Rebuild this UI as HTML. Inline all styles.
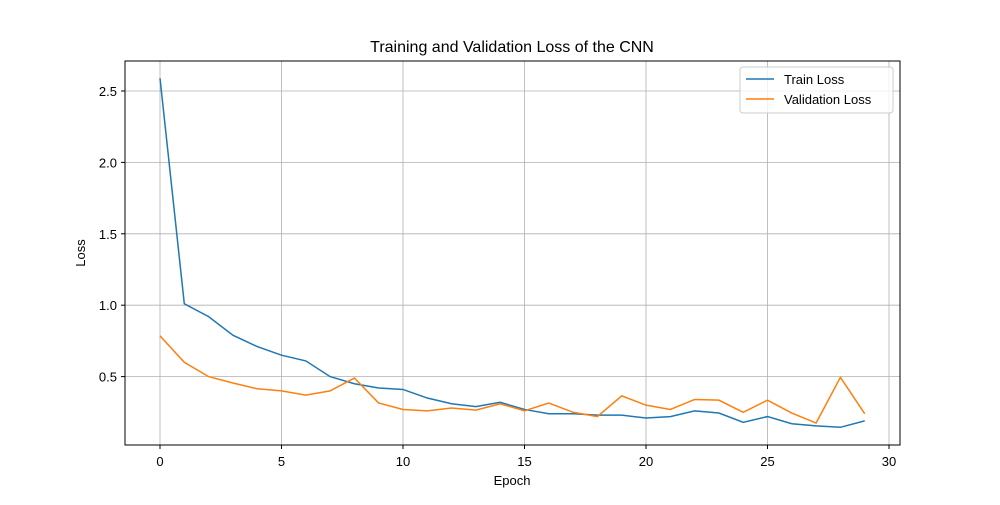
<!DOCTYPE html>
<html><head><meta charset="utf-8"><style>
body{margin:0;background:#fff;font-family:"Liberation Sans","DejaVu Sans",sans-serif;}
</style></head><body>
<svg id="chart" width="1000" height="500" xmlns="http://www.w3.org/2000/svg">
<rect width="1000" height="500" fill="#fff"/>
<g id="grid"></g>
<g id="lines"></g>
<rect x="125" y="61" width="775" height="384" fill="none" stroke="#000" stroke-width="1"/>
<g id="ticks" font-size="13" fill="#000"></g>
<text x="512" y="52" text-anchor="middle" font-size="16">Training and Validation Loss of the CNN</text>
<text x="512" y="485" text-anchor="middle" font-size="13">Epoch</text>
<text transform="translate(85,253) rotate(-90)" text-anchor="middle" font-size="13">Loss</text>
<g>
<rect x="740" y="67" width="153" height="46" rx="3" fill="#fff" fill-opacity="0.8" stroke="#ccc"/>
<g><line x1="746" y1="79" x2="774" y2="79" stroke="#1f77b4" stroke-width="1.5"/><text x="784" y="84" font-size="13">Train Loss</text></g>
<g><line x1="746" y1="99" x2="774" y2="99" stroke="#ff7f0e" stroke-width="1.5"/><text x="784" y="104" font-size="13">Validation Loss</text></g>
</g>
</svg>
<script>
const epochs=[...Array(30).keys()];
const trainLoss=[2.59,1.01,0.92,0.79,0.71,0.65,0.61,0.50,0.45,0.42,0.41,0.35,0.31,0.29,0.32,0.27,0.24,0.24,0.23,0.23,0.21,0.22,0.26,0.245,0.18,0.22,0.17,0.155,0.145,0.19];
const valLoss=[0.785,0.60,0.50,0.455,0.415,0.40,0.37,0.40,0.49,0.315,0.27,0.26,0.28,0.265,0.31,0.26,0.315,0.25,0.22,0.365,0.30,0.27,0.34,0.335,0.25,0.335,0.245,0.175,0.495,0.24];
const xTicks=[0,5,10,15,20,25,30];
const yTicks=[0.5,1.0,1.5,2.0,2.5];
const NS="http://www.w3.org/2000/svg";
const xs=v=>160+v*(889-160)/30;
const ys=v=>448-v*142.8;
const grid=document.getElementById('grid'),ticks=document.getElementById('ticks'),lines=document.getElementById('lines');
function mk(tag,attrs,parent){const e=document.createElementNS(NS,tag);for(const k in attrs)e.setAttribute(k,attrs[k]);parent.appendChild(e);return e;}
xTicks.forEach(t=>{const x=xs(t);
const g=mk('line',{x1:x,x2:x,y1:61,y2:445,stroke:'#b0b0b0','stroke-width':0.8},grid);


mk('line',{x1:x,x2:x,y1:445,y2:449,stroke:'#000'},ticks);
const tx=mk('text',{x:x,y:466,'text-anchor':'middle'},ticks);tx.textContent=t;

});
yTicks.forEach(t=>{const y=ys(t);
const g=mk('line',{x1:125,x2:900,y1:y,y2:y,stroke:'#b0b0b0','stroke-width':0.8},grid);


mk('line',{x1:121,x2:125,y1:y,y2:y,stroke:'#000'},ticks);
const tx=mk('text',{x:117,y:y+5,'text-anchor':'end'},ticks);tx.textContent=t.toFixed(1);

});
[[trainLoss,'#1f77b4','train-loss-line'],[valLoss,'#ff7f0e','validation-loss-line']].forEach(([d,c,n])=>{
const p=mk('polyline',{points:d.map((v,i)=>xs(epochs[i])+','+ys(v)).join(' '),fill:'none',stroke:c,'stroke-width':1.5},lines);

});
</script>
</body></html>
